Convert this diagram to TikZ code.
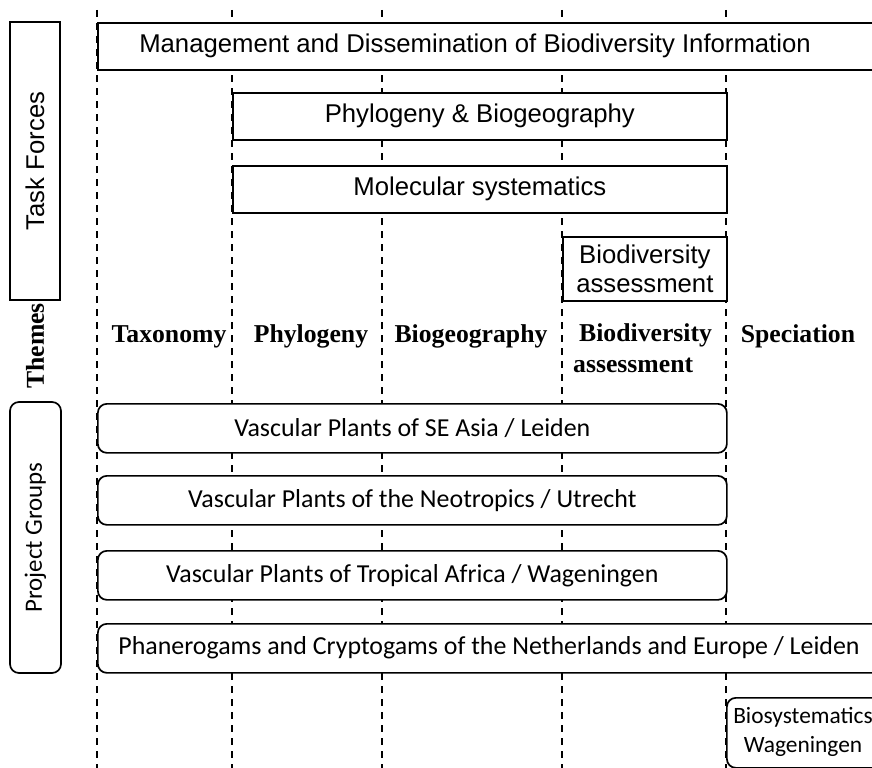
\documentclass[tikz,border=0pt]{standalone}
\usepackage{fontspec}
\setmainfont{Liberation Sans}
\newfontfamily\arialf{Liberation Sans}
\newfontfamily\calib{Carlito}
\newfontfamily\timesf{Liberation Serif}
\begin{document}
\begin{tikzpicture}[x=1bp,y=-1bp,
  guide/.style={line width=2bp, dash pattern=on 7bp off 6bp},
  tfbox/.style={draw, line width=1.7bp, fill=white, rectangle, inner sep=0pt},
  pgbox/.style={draw, line width=1.7bp, fill=white, rectangle, rounded corners=9bp, inner sep=0pt},
  tftext/.style={font=\arialf\fontsize{25.8}{30}\selectfont, inner sep=0pt, align=center},
  pgtext/.style={font=\calib\fontsize{26}{30}\selectfont, inner sep=0pt, align=center},
  thtext/.style={font=\timesf\bfseries\fontsize{25.8}{31}\selectfont, inner sep=0pt, anchor=base},
]
\useasboundingbox (0,0) rectangle (872,768);
\clip (0,0) rectangle (872,768);
\fill[white] (0,0) rectangle (872,768);

% guides
\foreach \i/\x in {1/97,2/232,3/382,4/562,5/726}{
  \coordinate (gt\i) at (\x,10);
  \coordinate (gb\i) at (\x,772);
  \draw[guide] (gt\i) -- (gb\i);
}

% side labels
\node[tfbox, rotate=90, minimum width=278bp, minimum height=50bp, tftext] (tf) at (35,161) {Task Forces};
\node[thtext, anchor=center, rotate=90] (themes) at (35,346) {Themes};
\node[pgbox, rotate=90, minimum width=271bp, minimum height=51bp, font=\calib\fontsize{25}{30}\selectfont] (pg) at (35.5,537.5) {Project Groups};

% task force boxes
\node[tfbox, anchor=north west, minimum width=800bp, minimum height=47bp] (mgmt) at (97,22) {};
\node[tftext] (mgmtt) at (475,46) {Management and Dissemination of Biodiversity Information};
\node[tfbox, anchor=north west, minimum width=494bp, minimum height=47bp, tftext] (phylo) at (232,92) {Phylogeny \& Biogeography};
\node[tfbox, anchor=north west, minimum width=494bp, minimum height=47bp, tftext] (mol) at (232,165) {Molecular systematics};
\node[tfbox, anchor=north west, minimum width=164bp, minimum height=64bp, tftext, font=\arialf\fontsize{25.8}{29.5}\selectfont] (bio) at (562,236) {Biodiversity\\assessment};

% themes
\node[thtext] (th1) at (169,342) {Taxonomy};
\node[thtext] (th2) at (311,342) {Phylogeny};
\node[thtext] (th3) at (471,342) {Biogeography};
\node[thtext, anchor=base west] (th4a) at (579,341) {Biodiversity};
\node[thtext, anchor=base west] (th4b) at (573,372) {assessment};
\node[thtext] (th5) at (798,342) {Speciation};

% project groups
\node[pgbox, anchor=north west, minimum width=629bp, minimum height=49bp, pgtext] (p1) at (97,403) {Vascular Plants of SE Asia / Leiden};
\node[pgbox, anchor=north west, minimum width=629bp, minimum height=49bp, pgtext] (p2) at (97,475) {Vascular Plants of the Neotropics / Utrecht};
\node[pgbox, anchor=north west, minimum width=629bp, minimum height=49bp, pgtext] (p3) at (97,550) {Vascular Plants of Tropical Africa / Wageningen};
\node[pgbox, anchor=north west, minimum width=800bp, minimum height=49bp] (p4) at (97,623) {};
\node[pgtext] (p4t) at (489,648) {Phanerogams and Cryptogams of the Netherlands and Europe / Leiden};
\node[pgbox, anchor=north west, minimum width=170bp, minimum height=70bp] (p5) at (726,697) {};
\node[font=\calib\fontsize{23.5}{29}\selectfont, inner sep=0pt, align=center] (p5t) at (803,732) {Biosystematics\\Wageningen};
\end{tikzpicture}
\end{document}
